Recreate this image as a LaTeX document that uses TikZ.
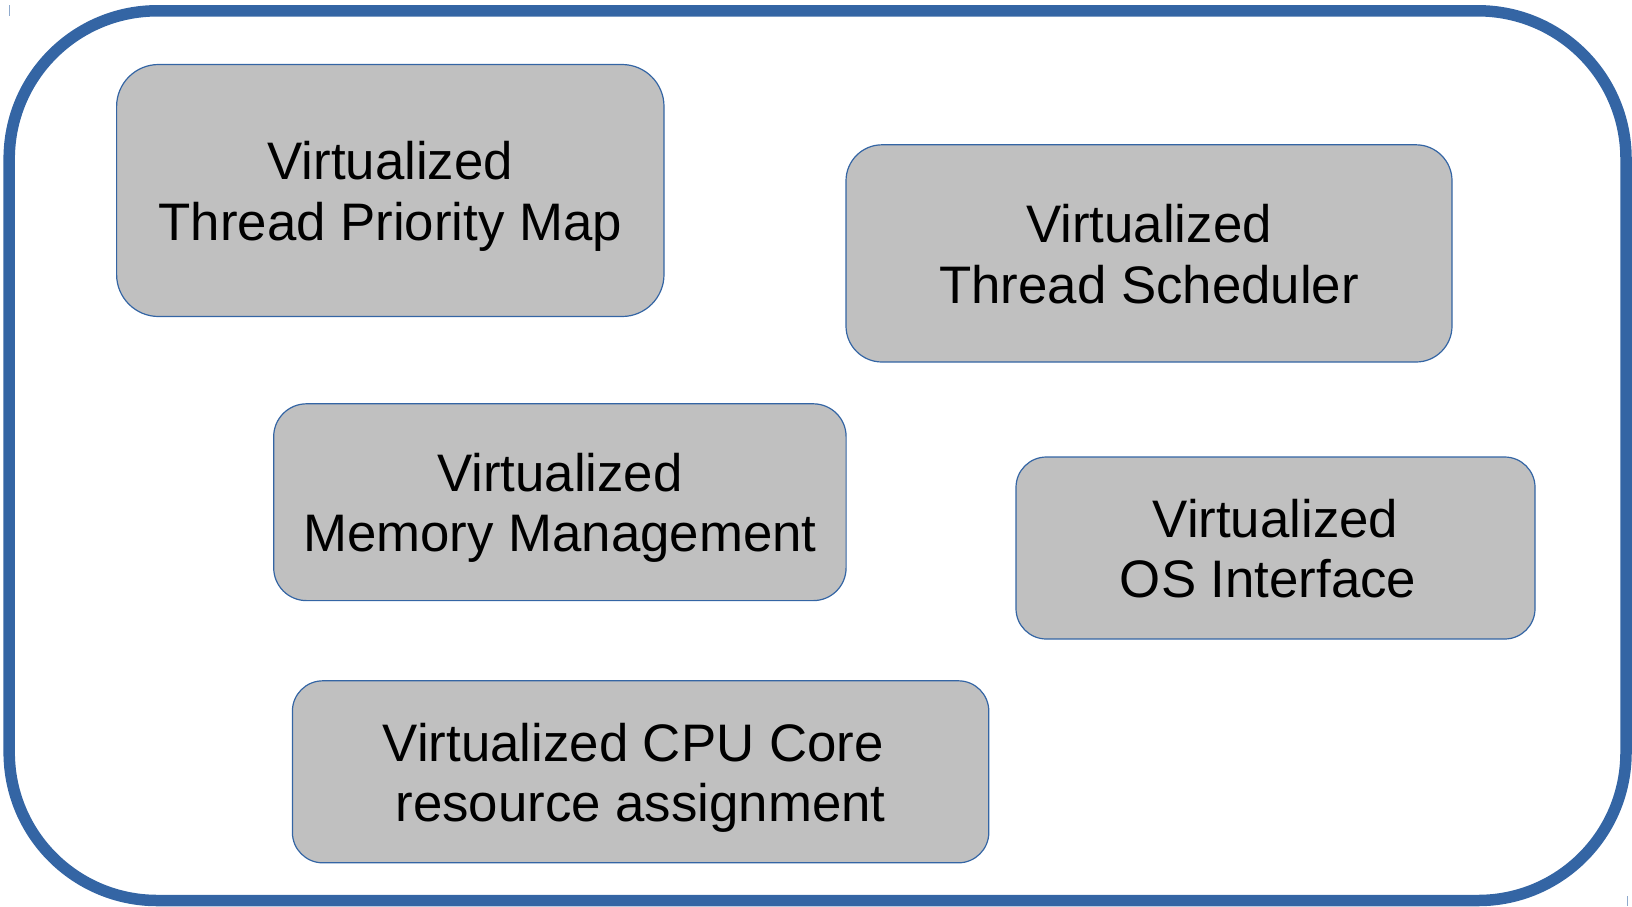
\documentclass[tikz,border=0pt]{standalone}
\usepackage{fontspec}
\setmainfont{Liberation Sans}
\definecolor{frameblue}{HTML}{3465A4}
\definecolor{boxgray}{HTML}{C0C0C0}
% line struts so every label is centred by its font metrics, not its glyphs
\newcommand\labtop{\rule{0pt}{0.98em}}
\newcommand\labbot{\rule[-0.245em]{0pt}{0pt}}
\tikzset{
  module/.style={draw=frameblue, line width=0.6pt, fill=boxgray,
    align=center, inner sep=0pt, text=black,
    font=\fontsize{26.4pt}{30.2pt}\selectfont},
  outerframe/.style={draw=frameblue, line width=5.75pt, rounded corners=74pt},
  handle/.style={draw=frameblue!55, line width=0.5pt}
}
\begin{document}
\begin{tikzpicture}[x=0.5pt,y=-0.5pt]
\useasboundingbox (0,0) rectangle (1632,906);

% container
\draw[outerframe] (9.2,10.8) rectangle (1626,900.5);
\draw[handle] (9.3,5) -- (9.3,16);
\draw[handle] (1627.7,896) -- (1627.7,906);

% modules
\node[module, minimum width=273.7pt, minimum height=126pt, rounded corners=21pt]
  (prio) at (390.3,190.5) {\labtop Virtualized\\Thread Priority Map\labbot};
\node[module, minimum width=303pt, minimum height=108.6pt, rounded corners=18pt]
  (sched) at (1149,253.4) {\labtop Virtualized\\Thread Scheduler\labbot};
\node[module, minimum width=286.2pt, minimum height=98.4pt, rounded corners=16.4pt]
  (mem) at (559.9,502.2) {\labtop Virtualized\\Memory Management\labbot};
\node[module, minimum width=259.5pt, minimum height=91pt, rounded corners=15.2pt]
  (osif) at (1275.5,548) {\labtop Virtualized\\OS Interface\hspace*{0.278em}\labbot};
\node[module, minimum width=348.2pt, minimum height=91pt, rounded corners=15.2pt]
  (cpu) at (640.6,771.8) {\labtop Virtualized CPU Core\hspace*{0.278em}\\resource assignment\labbot};
\end{tikzpicture}
\end{document}
